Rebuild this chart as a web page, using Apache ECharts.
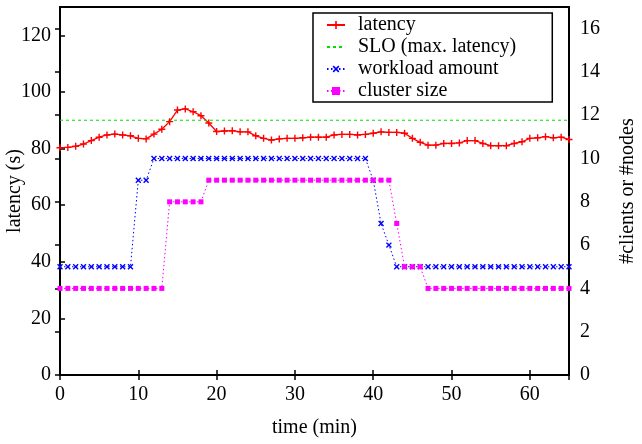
<!DOCTYPE html>
<html>
<head>
<meta charset="utf-8">
<script src="https://cdn.jsdelivr.net/npm/echarts@6/dist/echarts.min.js"></script>
<style>html,body{margin:0;padding:0;background:#fff}#c{width:642px;height:444px}</style>
</head>
<body>
<div id="c"></div>
<script>
var minutes = [0,1,2,3,4,5,6,7,8,9,10,11,12,13,14,15,16,17,18,19,20,21,22,23,24,25,26,27,28,29,30,31,32,33,34,35,36,37,38,39,40,41,42,43,44,45,46,47,48,49,50,51,52,53,54,55,56,57,58,59,60,61,62,63,64,65];
var latency = [80.3,80.4,80.8,81.6,82.8,84.0,84.8,85.1,84.8,84.5,83.6,83.4,85.1,86.8,89.5,93.6,94.0,93.0,91.6,89.0,86.0,86.2,86.3,85.9,85.9,84.5,83.6,83.0,83.4,83.6,83.6,83.8,84.0,84.0,84.0,84.8,85.0,85.0,84.8,85.0,85.4,85.9,85.7,85.7,85.4,83.6,82.2,81.2,81.2,81.8,81.8,82.0,82.8,82.8,81.8,81.0,81.0,81.0,81.8,82.4,83.6,83.8,84.2,83.8,84.0,83.2];
var workload = [5,5,5,5,5,5,5,5,5,5,9,9,10,10,10,10,10,10,10,10,10,10,10,10,10,10,10,10,10,10,10,10,10,10,10,10,10,10,10,10,9,7,6,5,5,5,5,5,5,5,5,5,5,5,5,5,5,5,5,5,5,5,5,5,5,5];
var clusterSize = [4,4,4,4,4,4,4,4,4,4,4,4,4,4,8,8,8,8,8,9,9,9,9,9,9,9,9,9,9,9,9,9,9,9,9,9,9,9,9,9,9,9,9,7,5,5,5,4,4,4,4,4,4,4,4,4,4,4,4,4,4,4,4,4,4,4];
var sloTimes = [0, 65];
var sloValues = [90, 90];

function pairs(xs, ys){ return xs.map(function(x,i){ return [x, ys[i]]; }); }
var FONT = 'Liberation Serif';
var plus = 'path://M4,0h2v4h4v2h-4v4h-2v-4h-4v-2h4z';

var chart = echarts.init(document.getElementById('c'), null, {renderer:'canvas'});
var axisText = {fontFamily: FONT, fontSize: 20, color: '#000'};
function tick(){ return {show: true, inside: true, length: 5, lineStyle: {color: '#000', width: 1.5}}; }
function line(){ return {show: true, lineStyle: {color: '#000', width: 2}}; }
chart.setOption({
  animation: false,
  backgroundColor: '#fff',
  grid: {left: 60, right: 73, top: 7, bottom: 69, outerBoundsMode: 'none', containLabel: false,
         show: true, borderColor: '#000', borderWidth: 2, backgroundColor: 'transparent'},
  legend: {
    orient: 'vertical', left: 313, top: 13,
    itemWidth: 18, itemHeight: 10, itemGap: 2,
    padding: [2, 36, 1, 13],
    borderColor: '#000', borderWidth: 1.5, backgroundColor: '#fff',
    textStyle: {fontFamily: FONT, fontSize: 20, color: '#000', lineHeight: 20, padding: [0,0,0,8]},
    data: ['latency', 'SLO (max. latency)', 'workload amount', 'cluster size']
  },
  xAxis: [{
    type: 'value', min: 0, max: 65, interval: 10, position: 'bottom',
    axisLine: line(), axisTick: tick(),
    axisLabel: Object.assign({margin: 10, showMaxLabel: false}, axisText),
    splitLine: {show: false}, minorTick: {show: false},
    name: 'time (min)', nameLocation: 'middle', nameGap: 43, nameMoveOverlap: false, nameTextStyle: axisText
  }, {
    type: 'value', min: 0, max: 65, interval: 10, position: 'top',
    axisLine: line(), axisTick: tick(),
    axisLabel: {show: false}, splitLine: {show: false}
  }],
  yAxis: [{
    type: 'value', min: 0, max: 130, interval: 20, position: 'left',
    axisLine: line(), axisTick: tick(),
    axisLabel: Object.assign({margin: 9, showMaxLabel: false}, axisText),
    splitLine: {show: false}, minorTick: {show: false},
    name: 'latency (s)', nameLocation: 'middle', nameRotate: 90, nameGap: 35, nameMoveOverlap: false, nameTextStyle: axisText
  }, {
    type: 'value', min: 0, max: 17, interval: 2, position: 'right',
    axisLine: line(), axisTick: tick(),
    axisLabel: Object.assign({margin: 11, showMaxLabel: false}, axisText),
    splitLine: {show: false}, minorTick: {show: false},
    name: '#clients or #nodes', nameLocation: 'middle', nameRotate: 90, nameGap: 49, nameMoveOverlap: false, nameTextStyle: axisText
  }],
  series: [{
    name: 'latency', type: 'line', xAxisIndex: 0, yAxisIndex: 0,
    data: pairs(minutes, latency),
    symbol: plus, symbolSize: 7,
    itemStyle: {color: '#ff0000'}, lineStyle: {color: '#ff0000', width: 1.3}
  }, {
    name: 'SLO (max. latency)', type: 'line', xAxisIndex: 0, yAxisIndex: 0,
    data: pairs(sloTimes, sloValues), symbol: 'none',
    itemStyle: {color: '#00e000', opacity: 0}, lineStyle: {color: '#00e000', width: 1, type: [3, 3]}
  }, {
    name: 'workload amount', type: 'line', xAxisIndex: 0, yAxisIndex: 1,
    data: pairs(minutes, workload),
    symbol: plus, symbolRotate: 45, symbolSize: 7,
    itemStyle: {color: '#0000ff'}, lineStyle: {color: '#0000ff', width: 1, type: [1.5, 2.5]}
  }, {
    name: 'cluster size', type: 'line', xAxisIndex: 0, yAxisIndex: 1,
    data: pairs(minutes, clusterSize),
    symbol: 'rect', symbolSize: 5,
    itemStyle: {color: '#ff00ff'}, lineStyle: {color: '#ff00ff', width: 1, type: [1.5, 2.5]}
  }]
});
</script>
</body>
</html>
